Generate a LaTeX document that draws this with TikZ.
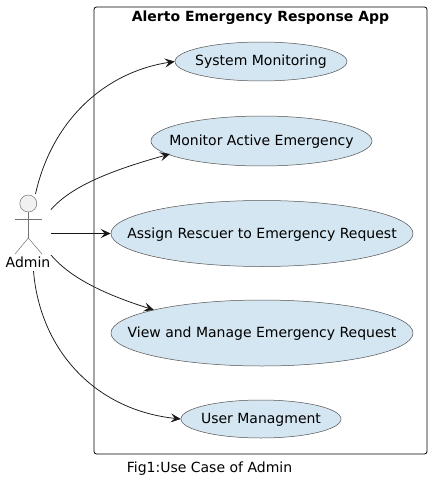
\documentclass[tikz,border=0pt]{standalone}
\usepackage{fontspec}
\setmainfont{DejaVu Sans}
\usetikzlibrary{shapes.geometric,arrows.meta}
\definecolor{uc}{HTML}{D4E6F1}
\definecolor{actorfill}{HTML}{F1F1F1}
\definecolor{lc}{HTML}{181818}
\tikzset{
 usecase/.style={draw=lc!75!white,line width=0.5pt,fill=uc,ellipse,inner sep=0pt,minimum width=#1},
 lbl/.style={font=\fontsize{14}{17}\selectfont,text=black,inner sep=0pt,anchor=base},
 conn/.style={draw=lc,line width=0.75pt,-{Stealth[length=10pt,width=9pt,inset=4pt]}},
 stick/.style={draw=gray!90!black,line width=0.5pt}
}
\begin{document}
\begin{tikzpicture}[x=1pt,y=-1pt]
\useasboundingbox (0,0) rectangle (432,484);
\fill[white] (0,0) rectangle (432,484);
\node[draw=black,line width=0.8pt,rounded corners=2.5pt,minimum width=333pt,minimum height=447pt,inner sep=0pt] (sys) at (260.5,230.5) {};
\node[lbl,font=\fontsize{14}{17}\bfseries\selectfont] (title) at (260.5,22) {Alerto Emergency Response App};
\node[usecase=172pt,minimum height=39pt] (a) at (261,61.5) {};
\node[lbl] (at) at (261,66) {System Monitoring};
\node[usecase=221pt,minimum height=50pt] (b) at (261.5,141) {};
\node[lbl] (bt) at (261.5,145.5) {Monitor Active Emergency};
\node[usecase=302pt,minimum height=66pt] (c) at (262,233.5) {};
\node[lbl] (ct) at (262,238) {Assign Rescuer to Emergency Request};
\node[usecase=302pt,minimum height=66pt] (d) at (262,333) {};
\node[lbl] (dt) at (262,337.5) {View and Manage Emergency Request};
\node[usecase=160pt,minimum height=38pt] (e) at (261,419) {};
\node[lbl] (et) at (261,423) {User Managment};
\node[lbl] (cap) at (209.5,472.7) {Fig1:Use Case of Admin};
\node[lbl] (admin) at (28,267.7) {Admin};
\node[draw=gray!90!black,line width=0.5pt,fill=actorfill,circle,minimum size=17pt,inner sep=0pt] (head) at (28.3,203.5) {};
\coordinate (neck) at (28.3,238);
\coordinate (la) at (15,219.5);
\coordinate (ra) at (42,219.5);
\coordinate (ll) at (15,254);
\coordinate (rl) at (42,254);
\draw[stick] (head.south) -- (neck);
\draw[stick] (la) -- (ra);
\draw[stick] (ll) -- (neck) -- (rl);
\coordinate (s1) at (35.5,194);
\coordinate (s2) at (51,209.5);
\coordinate (s3) at (51,233.5);
\coordinate (s4) at (51,255);
\coordinate (s5) at (33.5,271);
\coordinate (t2) at (170,154);
\coordinate (t4) at (154,310);
\draw[conn] (s1) .. controls (52,120) and (105,72) .. (a.west);
\draw[conn] (s2) .. controls (70,188) and (105,172) .. (t2);
\draw[conn] (s3) -- (c.west);
\draw[conn] (s4) .. controls (72,280) and (110,296) .. (t4);
\draw[conn] (s5) .. controls (40,350) and (95,410) .. (e.west);
\end{tikzpicture}
\end{document}
